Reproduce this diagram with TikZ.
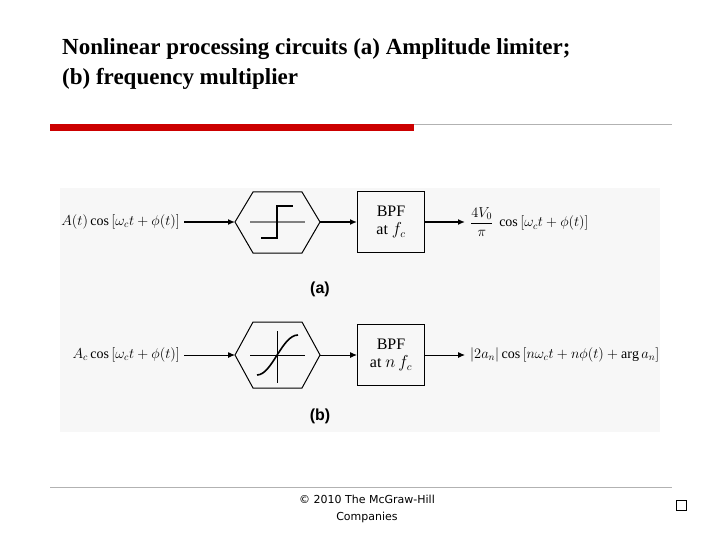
\documentclass[tikz,border=0pt]{standalone}
\usepackage{fontspec}
\usetikzlibrary{arrows.meta}
\setmainfont{Liberation Serif}
\newfontfamily\footfont{DejaVu Sans}
\newfontfamily\labfont{Liberation Sans}
\begin{document}
\begin{tikzpicture}[x=1pt,y=-1pt,
  sig/.style={line width=1.6pt,-{Latex[length=7pt,width=6pt]}},
  hexa/.style={line width=1pt},
  bpf/.style={draw,line width=1pt,minimum width=67pt,minimum height=61pt,align=center,font=\fontsize{16}{18}\selectfont},
  txt/.style={font=\fontsize{14}{16}\selectfont,inner sep=0pt},
  lab/.style={font=\labfont\bfseries\fontsize{16}{18}\selectfont}]
\useasboundingbox (0,0) rectangle (720,540);
\fill[white] (0,0) rectangle (720,540);
% title
\node[anchor=west,align=left,font=\bfseries\fontsize{23}{30}\selectfont,inner sep=0pt] (title) at (62,64)
  {Nonlinear processing circuits (a) Amplitude limiter;\\(b) frequency multiplier};
\fill[red!80!black] (50,124) rectangle (414,131);
\draw[gray!60,line width=0.8pt] (414,124) -- (672,124);
% panel
\fill[black!3] (60,188) rectangle (660,432);
% row a
\node[txt,anchor=east] (ina) at (180,222) {$A(t)\cos\,[\omega_c t+\phi(t)]$};
\draw[hexa] (235,222) -- (253,192) -- (302,192) -- (320,222) -- (302,253) -- (253,253) -- cycle;
\coordinate (hal) at (235,222); \coordinate (har) at (320,222);
\draw[gray,line width=1.6pt] (250,222) -- (305,222);
\draw[line width=1.2pt] (261,238) -- (277,238) -- (277,206) -- (293,206);
\node[bpf] (bpfa) at (391,222) {BPF\\at $f_c$};
\draw[sig] (ina.east) ++(4,0) -- (hal);
\draw[sig] (har) -- (bpfa.west);
\coordinate (outa) at (465,222);
\draw[sig] (bpfa.east) -- (outa);
\node[txt,anchor=west] (ta) at (470,222) {$\displaystyle\frac{4V_0}{\pi}\ \cos\,[\omega_c t+\phi(t)]$};
\node[lab] (la) at (320,289) {(a)};
% row b
\node[txt,anchor=east] (inb) at (180,355) {$A_c\cos\,[\omega_c t+\phi(t)]$};
\draw[hexa] (235,355) -- (253,322) -- (302,322) -- (320,355) -- (302,388) -- (253,388) -- cycle;
\coordinate (hbl) at (235,355); \coordinate (hbr) at (320,355);
\draw[line width=0.6pt] (250,355) -- (305,355) (277,331) -- (277,383);
\draw[line width=1.6pt] (257,375) .. controls (272,375) and (282,335) .. (298,335);
\node[bpf] (bpfb) at (391,355) {BPF\\at $n\,f_c$};
\draw[sig,line width=1pt] (inb.east) ++(4,0) -- (hbl);
\draw[sig,line width=1pt] (hbr) -- (bpfb.west);
\coordinate (outb) at (465,355);
\draw[sig,line width=1pt] (bpfb.east) -- (outb);
\node[txt,anchor=west] (tb) at (470,355) {$|2a_n|\cos\,[n\omega_c t+n\phi(t)+\arg a_n]$};
\node[lab] (lb) at (320,416) {(b)};
% footer
\draw[gray!60,line width=0.8pt] (50,487) -- (672,487);
\node[font=\footfont\fontsize{11}{17}\selectfont,align=center] (foot) at (367,509) {© 2010 The McGraw-Hill\\Companies};
\node[draw,line width=0.8pt,minimum size=10pt,inner sep=0pt] (bul) at (681,505) {};
\end{tikzpicture}
\end{document}
